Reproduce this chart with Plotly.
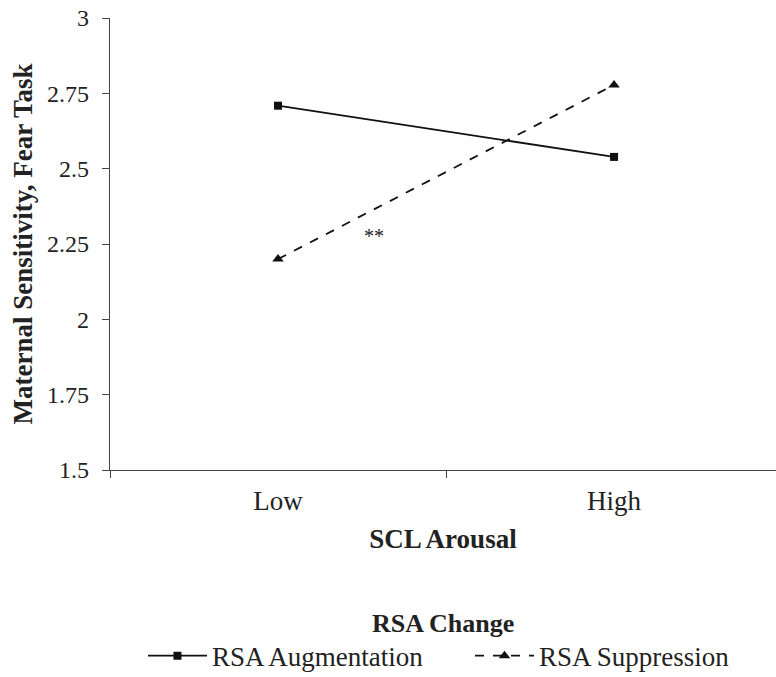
import plotly.graph_objects as go

categories = ["Low", "High"]
augmentation = [2.709, 2.539]
suppression = [2.20, 2.778]
y_ticks = [1.5, 1.75, 2, 2.25, 2.5, 2.75, 3]
y_tick_labels = ["1.5", "1.75", "2", "2.25", "2.5", "2.75", "3"]
sig_label = "**"
legend_title = "RSA Change"

FONT = "Liberation Serif"
TXT = "#222222"

fig = go.Figure()
fig.add_trace(go.Scatter(
    x=categories, y=augmentation, name="RSA Augmentation", mode="lines+markers",
    line=dict(color="#111", width=1.8),
    marker=dict(symbol="square", size=8, color="#111"),
    legend="legend",
))
fig.add_trace(go.Scatter(
    x=categories, y=suppression, name="RSA Suppression", mode="lines+markers",
    line=dict(color="#111", width=1.8, dash="dash"),
    marker=dict(symbol="triangle-up", size=10, color="#111"),
    legend="legend2",
))

fig.add_annotation(x=0.287, y=2.276, xref="x", yref="y", text=sig_label, showarrow=False,
                   font=dict(family=FONT, size=20, color=TXT))
fig.add_annotation(x=0.5, y=-0.3385, xref="paper", yref="paper", text="<b>" + legend_title + "</b>",
                   showarrow=False, xanchor="center", yanchor="middle",
                   font=dict(family=FONT, size=26, color=TXT))

legend_common = dict(
    orientation="h", yanchor="bottom", y=-0.466, xanchor="left",
    font=dict(size=27, family=FONT, color=TXT), itemwidth=59,
    bgcolor="rgba(0,0,0,0)",
)

fig.update_layout(
    width=776, height=677,
    margin=dict(l=110, r=0, t=18, b=207, autoexpand=False),
    paper_bgcolor="white", plot_bgcolor="white",
    font=dict(family=FONT, color=TXT),
    showlegend=True,
    legend=dict(x=0.0495, **legend_common),
    legend2=dict(x=0.5405, **legend_common),
    xaxis=dict(
        type="category", range=[-0.5, 1.482], showline=True, linecolor="#444", linewidth=1.3,
        ticks="outside", tickson="boundaries", ticklen=7, tickcolor="#444",
        tickfont=dict(size=27, family=FONT, color=TXT), ticklabelstandoff=6,
        showgrid=False, zeroline=False, automargin=False,
        title=dict(text="<b>SCL Arousal</b>", font=dict(size=27, family=FONT, color=TXT), standoff=14),
    ),
    yaxis=dict(
        range=[1.5, 3], tickvals=y_ticks, ticktext=y_tick_labels,
        showline=True, linecolor="#444", linewidth=1.3,
        ticks="outside", ticklen=7, tickcolor="#444", ticklabelstandoff=8,
        ticklabeloverflow="allow",
        tickfont=dict(size=24, family=FONT, color=TXT), showgrid=False, zeroline=False,
        automargin=False,
        title=dict(text="<b>Maternal Sensitivity, Fear Task</b>", font=dict(size=27, family=FONT, color=TXT), standoff=6),
    ),
)

fig.write_html("out.html", config={"displayModeBar": False},
               post_script="document.body.style.margin='0';")
